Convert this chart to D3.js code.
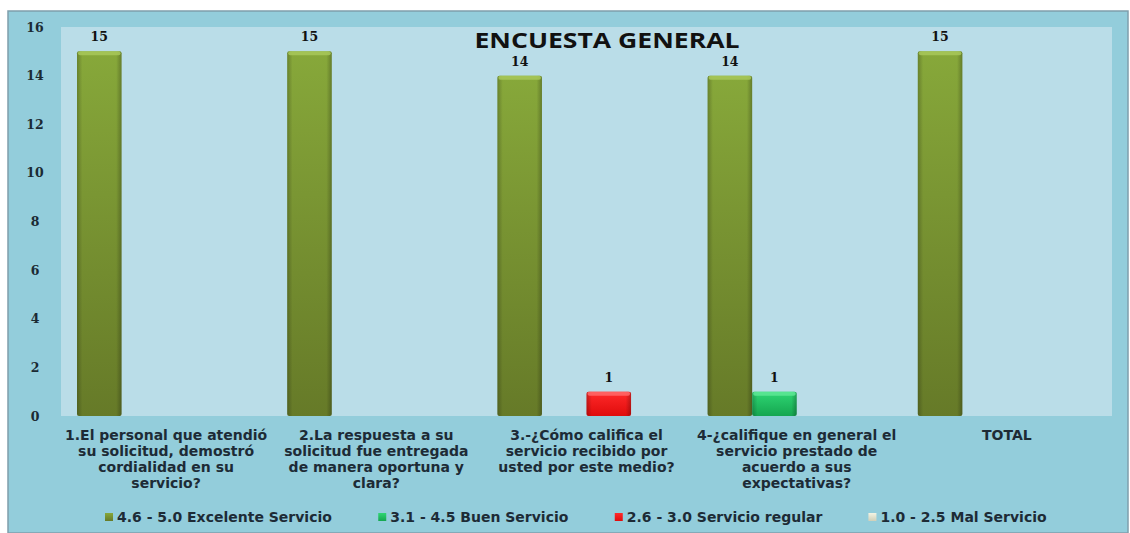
<!DOCTYPE html>
<html>
<head>
<meta charset="utf-8">
<script src="https://cdn.jsdelivr.net/npm/d3@7"></script>
<style>
  body { margin: 0; background: #ffffff; }
  svg { display: block; }
</style>
</head>
<body>
<div id="chart"></div>
<script>
// chart data
var categories = ["q1", "q2", "q3", "q4", "total"];
var categoryLines = [
  ["1.El personal que atendió", "su solicitud, demostró", "cordialidad en su", "servicio?"],
  ["2.La respuesta a su", "solicitud fue entregada", "de manera oportuna y", "clara?"],
  ["3.-¿Cómo califica el", "servicio recibido por", "usted por este medio?"],
  ["4-¿califique en general el", "servicio prestado de", "acuerdo a sus", "expectativas?"],
  ["TOTAL"]
];
var seriesNames = ["4.6 - 5.0 Excelente Servicio", "3.1 - 4.5 Buen Servicio", "2.6 - 3.0 Servicio regular", "1.0 - 2.5 Mal Servicio"];
var excelente = [15, 15, 14, 14, 15];
var bueno = [0, 0, 0, 1, 0];
var regular = [0, 0, 1, 0, 0];
var malo = [0, 0, 0, 0, 0];
var yTicks = [0, 2, 4, 6, 8, 10, 12, 14, 16];

var seriesValues = [excelente, bueno, regular, malo];
// colours per series: [top, bottom, cap]
var seriesColors = [
  ["#87a83a", "#667a28", "#a8c85a"],
  ["#2fd673", "#15a650", "#5ee895"],
  ["#ff2a2a", "#e00c0c", "#ff6a6a"],
  ["#f4f4e4", "#cfcfb8", "#ffffff"]
];

var W = 1130, H = 533;
var plot = { left: 61, right: 1112, top: 27, bottom: 416 };
var labelFont = "'DejaVu Sans', Verdana, sans-serif";

var svg = d3.select("#chart")
  .append("svg")
  .attr("width", W)
  .attr("height", H);

var defs = svg.append("defs");
seriesColors.forEach(function(c, i) {
  var g = defs.append("linearGradient")
    .attr("id", "grad" + i)
    .attr("x1", 0).attr("y1", 0).attr("x2", 0).attr("y2", 1);
  g.append("stop").attr("offset", "0%").attr("stop-color", c[0]);
  g.append("stop").attr("offset", "100%").attr("stop-color", c[1]);
  var h = defs.append("linearGradient")
    .attr("id", "side" + i)
    .attr("x1", 0).attr("y1", 0).attr("x2", 1).attr("y2", 0);
  h.append("stop").attr("offset", "0%").attr("stop-color", "#000").attr("stop-opacity", 0.22);
  h.append("stop").attr("offset", "12%").attr("stop-color", "#000").attr("stop-opacity", 0);
  h.append("stop").attr("offset", "88%").attr("stop-color", "#000").attr("stop-opacity", 0);
  h.append("stop").attr("offset", "100%").attr("stop-color", "#000").attr("stop-opacity", 0.25);
});

// outer frame
svg.append("rect")
  .attr("x", 8).attr("y", 11)
  .attr("width", W - 10).attr("height", H - 11)
  .attr("fill", "#93cddb")
  .attr("stroke", "#7f9eac")
  .attr("stroke-width", 1.5);

// plot background
svg.append("rect")
  .attr("x", plot.left).attr("y", plot.top)
  .attr("width", plot.right - plot.left).attr("height", plot.bottom - plot.top)
  .attr("fill", "#badde8");

// scales
var x0 = d3.scaleBand()
  .domain(categories)
  .range([plot.left, plot.right])
  .padding(0);

var x1 = d3.scaleBand()
  .domain(d3.range(seriesNames.length))
  .range([16, x0.bandwidth() - 16])
  .padding(0);

var y = d3.scaleLinear()
  .domain([0, 16])
  .range([plot.bottom, plot.top]);

// y axis
var yAxis = svg.append("g")
  .attr("transform", "translate(44,0)")
  .call(d3.axisLeft(y).tickValues(yTicks).tickSize(0).tickPadding(0));
yAxis.select(".domain").remove();
yAxis.selectAll("text")
  .attr("text-anchor", "middle")
  .attr("dx", "-9")
  .style("font-family", "'DejaVu Serif', serif")
  .style("font-weight", "bold")
  .style("font-size", "12.5px")
  .style("fill", "#1b2a33");

// bars
var rows = [];
categories.forEach(function(cat, ci) {
  seriesValues.forEach(function(vals, si) {
    if (vals[ci] > 0) rows.push({ cat: cat, s: si, v: vals[ci] });
  });
});

var bars = svg.append("g").selectAll("g")
  .data(rows)
  .enter()
  .append("g")
  .attr("transform", function(d) { return "translate(" + (x0(d.cat) + x1(d.s)) + ",0)"; });

bars.append("rect")
  .attr("y", function(d) { return y(d.v); })
  .attr("width", x1.bandwidth())
  .attr("height", function(d) { return y(0) - y(d.v); })
  .attr("rx", 2)
  .attr("fill", function(d) { return "url(#grad" + d.s + ")"; });

bars.append("rect")
  .attr("y", function(d) { return y(d.v); })
  .attr("width", x1.bandwidth())
  .attr("height", function(d) { return y(0) - y(d.v); })
  .attr("rx", 2)
  .attr("fill", function(d) { return "url(#side" + d.s + ")"; });

bars.append("rect")
  .attr("x", 1)
  .attr("y", function(d) { return y(d.v); })
  .attr("width", x1.bandwidth() - 2)
  .attr("height", 4)
  .attr("rx", 2)
  .attr("fill", function(d) { return seriesColors[d.s][2]; })
  .attr("opacity", 0.85);

// value labels
bars.append("text")
  .attr("x", x1.bandwidth() / 2)
  .attr("y", function(d) { return y(d.v) - 10; })
  .attr("text-anchor", "middle")
  .style("font-family", "'DejaVu Serif', serif")
  .style("font-weight", "bold")
  .style("font-size", "12.5px")
  .style("fill", "#111")
  .text(function(d) { return d.v; });

// title
svg.append("text")
  .attr("x", 607)
  .attr("y", 48)
  .attr("text-anchor", "middle")
  .attr("textLength", 265)
  .attr("lengthAdjust", "spacingAndGlyphs")
  .style("font-family", "'Open Sans', sans-serif")
  .style("font-weight", "bold")
  .style("font-size", "22px")
  .style("fill", "#111")
  .text("ENCUESTA GENERAL");

// category labels
var catG = svg.append("g");
categories.forEach(function(cat, ci) {
  var t = catG.append("text")
    .attr("text-anchor", "middle")
    .style("font-family", labelFont)
    .style("font-weight", "bold")
    .style("font-size", "14px")
    .style("fill", "#1d2b36");
  categoryLines[ci].forEach(function(line, li) {
    t.append("tspan")
      .attr("x", x0(cat) + x0.bandwidth() / 2)
      .attr("y", 440 + li * 16)
      .text(line);
  });
});

// legend
var legend = svg.append("g");
var items = legend.selectAll("g")
  .data(seriesNames)
  .enter()
  .append("g");
items.append("rect")
  .attr("y", 513)
  .attr("width", 8)
  .attr("height", 8)
  .attr("fill", function(d, i) { return "url(#grad" + i + ")"; });
items.append("text")
  .attr("x", 12)
  .attr("y", 522)
  .style("font-family", labelFont)
  .style("font-weight", "bold")
  .style("font-size", "14px")
  .style("fill", "#1d2b36")
  .text(function(d) { return d; });

var widths = [];
items.each(function() { widths.push(this.getBBox().width); });
var gap = 46;
var cx = 105;
items.attr("transform", function(d, i) {
  var pos = cx;
  cx += widths[i] + gap;
  return "translate(" + pos + ",0)";
});
</script>
</body>
</html>
